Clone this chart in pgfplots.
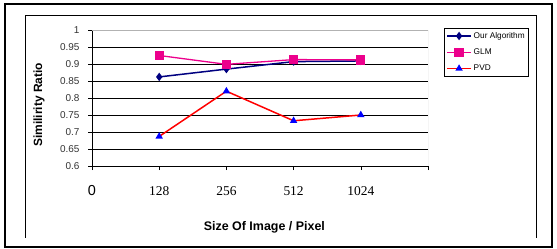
\documentclass[border=0pt]{standalone}
\usepackage{pgfplots}
\pgfplotsset{compat=1.18}
\usepackage{fontspec}
\setmainfont{Liberation Sans}
\newfontfamily\tnr{Liberation Serif}
\newfontfamily\arial{Liberation Sans}
\definecolor{navyc}{RGB}{0,0,128}
\begin{document}
\begin{tikzpicture}
\useasboundingbox (0,0) rectangle (557bp,249bp);
\draw[line width=2bp] (5bp,2bp) rectangle (552bp,245bp);
\draw[line width=0.8bp] (25bp,11bp) -- (25bp,234bp) -- (536bp,234bp) -- (536bp,11bp);
\begin{axis}[
  at={(92bp,83bp)}, anchor=south west,
  scale only axis, width=336bp, height=136bp,
  xmin=0, xmax=5, ymin=0.6, ymax=1,
  axis x line*=bottom, axis y line*=left,
  axis line style={black, line width=0.8bp, -},
  xtick={0,1,2,3,4,5},
  xticklabels={{\arial\fontsize{14.5}{15}\selectfont 0},128,256,512,1024,{}},
  xticklabel style={font=\tnr\fontsize{13.5}{14}\selectfont, anchor=base, yshift=-25bp},
  ytick={0.6,0.65,0.7,0.75,0.8,0.85,0.9,0.95},
  extra y ticks={1},
  extra y tick style={grid=none},
  yticklabel style={font=\fontsize{10}{11}\selectfont, xshift=-5bp, text=black!80},
  /pgf/number format/assume math mode=true,
  ymajorgrids,
  grid style={black, line width=0.6bp},
  tick align=outside,
  major tick length=4bp,
  tick style={black, line width=0.6bp},
  xlabel={Size Of Image / Pixel},
  xlabel style={at={(rel axis cs:0.513,-0.449)}, anchor=center, font=\bfseries\fontsize{12.5}{14}\selectfont},
  ylabel={Similirity Ratio},
  ylabel style={at={(rel axis cs:-0.158,0.449)}, anchor=center, rotate=0, font=\bfseries\fontsize{12}{14}\selectfont},
  legend style={at={(1.048,1.015)}, anchor=north west, draw=black, line width=0.6bp,
    font=\fontsize{8.3}{9}\selectfont, row sep=5bp, inner sep=2bp, cells={anchor=west}},
  legend image code/.code={\draw[mark repeat=2,mark phase=2,#1] plot coordinates {(0cm,0cm) (0.42cm,0cm) (0.84cm,0cm)};},
]
\addplot[navyc, line width=1.5bp, mark=diamond*, mark size=3bp, mark options={fill=navyc, draw=navyc}]
  coordinates {(1,0.862) (2,0.885) (3,0.907) (4,0.909)};
\addlegendentry{Our Algorithm}
\addplot[magenta, line width=1.3bp, mark=square*, mark size=4bp, mark options={fill=magenta, draw=magenta}]
  coordinates {(1,0.925) (2,0.899) (3,0.913) (4,0.912)};
\addlegendentry{GLM}
\addplot[red, line width=1.5bp, mark=triangle*, mark size=2.8bp, mark options={fill=blue, draw=blue}]
  coordinates {(1,0.687) (2,0.820) (3,0.733) (4,0.750)};
\addlegendentry{PVD}
\draw[gray!60, line width=0.8bp] (rel axis cs:0,1) -- (rel axis cs:1,1) -- (rel axis cs:1,0);
\end{axis}
\end{tikzpicture}
\end{document}
